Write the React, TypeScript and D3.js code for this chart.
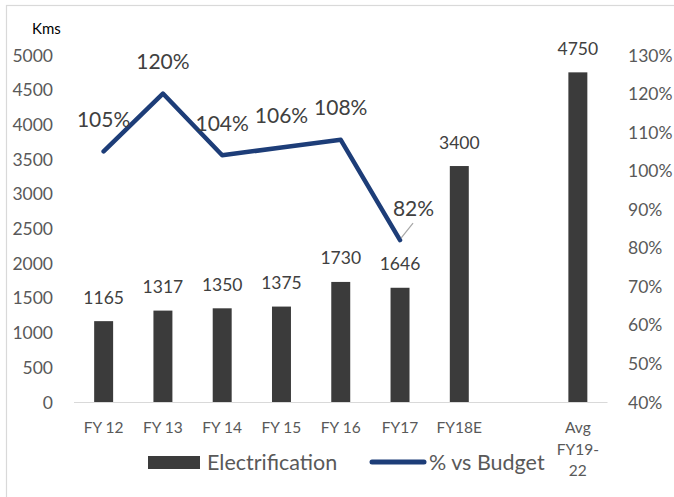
import React from "react";
import * as d3 from "d3";

const categories: string[] = ["FY 12", "FY 13", "FY 14", "FY 15", "FY 16", "FY17", "FY18E", "", "Avg\nFY19-\n22"];
const electrification: (number | null)[] = [1165, 1317, 1350, 1375, 1730, 1646, 3400, null, 4750];
const pctVsBudget: (number | null)[] = [1.05, 1.2, 1.04, 1.06, 1.08, 0.82, null, null, null];
const leftTicks: number[] = d3.range(0, 5001, 500);
const rightTicks: number[] = d3.range(0.4, 1.3001, 0.1).map((v) => Math.round(v * 100) / 100);

const W = 674;
const H = 497;
const FONT = "Lato, 'Open Sans', 'Noto Sans', sans-serif";
const BAR = "#3b3b3b";
const LINE = "#1d3d78";
const TICK = "#595959";
const LABEL = "#404040";

export default function App() {
  const idx = categories.map((_, i) => i);
  const x = d3.scalePoint<number>().domain(idx).range([74, 607.5]).padding(0.5);
  const step = x.step();
  const bw = step * 0.32;
  const yL = d3.scaleLinear().domain([0, 5000]).range([402, 55]);
  const yR = d3.scaleLinear().domain([0.4, 1.3]).range([402, 55]);

  const linePts = pctVsBudget
    .map((v, i) => (v == null ? null : ([x(i)!, yR(v)] as [number, number])))
    .filter((p): p is [number, number] => p !== null);
  const linePath = d3.line<[number, number]>()(linePts) || "";

  return (
    <svg width={W} height={H} style={{ position: "absolute", left: 0, top: 0, background: "#fff" }} fontFamily={FONT}>
      <rect x={6.5} y={5.5} width={800} height={700} fill="#fff" stroke="#d9d9d9" strokeWidth={1.2} />
      <text x={32} y={28} fontSize={15} fill="#000" dominantBaseline="central">Kms</text>

      {leftTicks.map((t) => (
        <text key={"l" + t} x={53} y={yL(t)} fontSize={17.5} fill={TICK} textAnchor="end" dominantBaseline="central">
          {t}
        </text>
      ))}
      {rightTicks.map((t) => (
        <text key={"r" + t} x={628} y={yR(t)} fontSize={17.5} fill={TICK} textAnchor="start" dominantBaseline="central">
          {Math.round(t * 100) + "%"}
        </text>
      ))}

      {electrification.map((v, i) =>
        v == null ? null : (
          <g key={"b" + i}>
            <rect x={x(i)! - bw / 2} y={yL(v)} width={bw} height={yL(0) - yL(v)} fill={BAR} />
            <text x={x(i)!} y={yL(v) - 24} fontSize={17.5} fill={LABEL} textAnchor="middle" dominantBaseline="central">
              {v}
            </text>
          </g>
        )
      )}

      <line x1={74} x2={607.5} y1={402.5} y2={402.5} stroke="#d9d9d9" strokeWidth={1.2} />

      {categories.map((c, i) =>
        c.split("\n").map((ln, j) => (
          <text key={"c" + i + "_" + j} x={x(i)!} y={427 + j * 21.5} fontSize={15.5} fill={TICK} textAnchor="middle" dominantBaseline="central">
            {ln}
          </text>
        ))
      )}

      <path d={linePath} fill="none" stroke={LINE} strokeWidth={4.5} strokeLinejoin="round" strokeLinecap="round" />

      {pctVsBudget.map((v, i) => {
        if (v == null) return null;
        const px = x(i)!;
        const py = yR(v);
        const isLast = i === 5;
        const lx = isLast ? px + 13.5 : px;
        const ly = py - 33;
        return (
          <g key={"p" + i}>
            {isLast && <line x1={px + 1} y1={py - 2} x2={px + 13} y2={py - 17} stroke="#a6a6a6" strokeWidth={1.2} />}
            <text x={lx} y={ly} fontSize={21} fill={LABEL} textAnchor="middle" dominantBaseline="central">
              {Math.round(v * 100) + "%"}
            </text>
          </g>
        );
      })}

      <rect x={148} y={456} width={52} height={13} fill={BAR} />
      <text x={207} y={462} fontSize={21.5} fill={TICK} dominantBaseline="central">Electrification</text>
      <line x1={372} x2={424} y1={462} y2={462} stroke={LINE} strokeWidth={5} strokeLinecap="round" />
      <text x={429} y={462} fontSize={21.5} fill={TICK} dominantBaseline="central">% vs Budget</text>
    </svg>
  );
}
